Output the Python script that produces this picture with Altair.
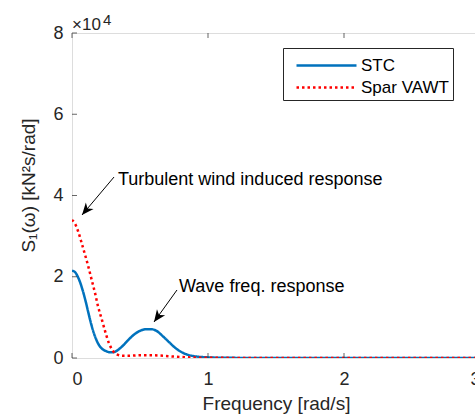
import altair as alt
import pandas as pd

# ---- data (values in kN^2 s/rad) ----
stc_x = [0.0, 0.02, 0.04, 0.06, 0.08, 0.10, 0.12, 0.14, 0.16, 0.18, 0.20, 0.22, 0.25, 0.28, 0.30, 0.33,
         0.37, 0.41, 0.45, 0.50, 0.55, 0.58, 0.62, 0.67, 0.72, 0.77, 0.82, 0.88, 0.95, 1.0, 1.1, 1.3,
         1.6, 2.0, 2.5, 3.0]
stc_y = [21500, 21200, 20200, 18600, 16500, 14000, 11200, 8500, 6200, 4400, 3100, 2300, 1700, 1400,
         1400, 1800, 2900, 4300, 5600, 6700, 7100, 7100, 6700, 5300, 3700, 2200, 1200, 550, 250, 150,
         60, 20, 10, 5, 5, 5]

spar_x = [0.0, 0.02, 0.046, 0.071, 0.096, 0.12, 0.145, 0.17, 0.19, 0.22, 0.24, 0.27, 0.30, 0.33,
          0.37, 0.42, 0.50, 0.57, 0.65, 0.77, 0.9, 1.0, 1.3, 1.6, 2.0, 2.5, 3.0]
spar_y = [34000, 33200, 31100, 28300, 25400, 22500, 19200, 15900, 12900, 9400, 7000, 3800, 1800,
          900, 550, 550, 700, 700, 600, 300, 100, 50, 20, 10, 5, 5, 5]

series_names = ["STC", "Spar VAWT"]
series_colors = ["#0072BD", "#FF0000"]

x_ticks = [0, 1, 2, 3]
y_ticks = [0, 20000, 40000, 60000, 80000]

ann_text = ["Turbulent wind induced response", "Wave freq. response"]
ann_text_x = [0.338, 0.787]
ann_text_y = [42600, 16200]
arrow_tail_x = [0.309, 0.772]
arrow_tail_y = [44550, 16740]
arrow_tip_x = [0.0735, 0.603]
arrow_tip_y = [35200, 8860]
arrow_angle = [220, 216]

W, H = 408, 325

rows = []
for name, xs, ys in [("STC", stc_x, stc_y), ("Spar VAWT", spar_x, spar_y)]:
    for a, b in zip(xs, ys):
        rows.append({"freq": a, "S": b, "series": name})
df = pd.DataFrame(rows)

ann = pd.DataFrame({
    "text": ann_text, "tx": ann_text_x, "ty": ann_text_y,
    "ax": arrow_tail_x, "ay": arrow_tail_y, "bx": arrow_tip_x, "by": arrow_tip_y,
    "angle": arrow_angle,
})

xscale = alt.Scale(domain=[0, 3], nice=False, zero=False)
yscale = alt.Scale(domain=[0, 80000], nice=False)

TXT = "#262626"
FONT = "Liberation Sans"

xaxis = alt.Axis(values=x_ticks, format="d", domain=False, ticks=False, grid=False,
                 labelFontSize=18, labelColor=TXT, labelPadding=12, labelFont=FONT,
                 title="Frequency [rad/s]", titleFontSize=19, titleFontWeight="normal",
                 titleColor=TXT, titleFont=FONT, titlePadding=6)
yaxis = alt.Axis(values=y_ticks, labelExpr="datum.value/10000", domain=False, ticks=False,
                 grid=False, labelFontSize=18, labelColor=TXT, labelPadding=9, labelFont=FONT,
                 title="S₁(ω) [kN²s/rad]", titleFontSize=19, titleFontWeight="normal",
                 titleColor=TXT, titleFont=FONT, titleX=-44, titleY=152,
                 titleBaseline="middle", titleAngle=270)

leg = dict(title=None, orient="none", legendX=211, legendY=15,
           strokeColor=TXT, fillColor="white", padding=4,
           rowPadding=0, labelFontSize=17, labelFont=FONT,
           labelColor="black", symbolType="M-2.5,0L2.5,0",
           symbolSize=576, symbolStrokeWidth=2.5,
           symbolOffset=26, labelOffset=21, cornerRadius=0)
color_enc = alt.Color("series:N", scale=alt.Scale(domain=series_names, range=series_colors),
                      legend=alt.Legend(**leg))
dash_enc = alt.StrokeDash("series:N", scale=alt.Scale(domain=series_names, range=[[1, 0], [2.5, 3]]),
                          legend=alt.Legend(**leg))

base = alt.Chart(df).encode(
    x=alt.X("freq:Q", scale=xscale, axis=xaxis),
    y=alt.Y("S:Q", scale=yscale, axis=yaxis),
    color=color_enc, strokeDash=dash_enc,
)
line_stc = base.transform_filter(alt.datum.series == "STC").mark_line(
    strokeWidth=2.5, clip=True, interpolate="monotone")
line_spar = base.transform_filter(alt.datum.series == "Spar VAWT").mark_line(
    strokeWidth=2.5, clip=True, interpolate="monotone")

xt = pd.DataFrame({"v": x_ticks})
yt = pd.DataFrame({"v": y_ticks})
tick_bottom = alt.Chart(xt).mark_tick(orient="vertical", size=5, thickness=1, color=TXT).encode(
    x=alt.X("v:Q", scale=xscale), y=alt.value(H - 2.5))
tick_top = alt.Chart(xt).mark_tick(orient="vertical", size=5, thickness=1, color=TXT).encode(
    x=alt.X("v:Q", scale=xscale), y=alt.value(2.5))
tick_left = alt.Chart(yt).mark_tick(orient="horizontal", size=5, thickness=1, color=TXT).encode(
    y=alt.Y("v:Q", scale=yscale), x=alt.value(2.5))
tick_right = alt.Chart(yt).mark_tick(orient="horizontal", size=5, thickness=1, color=TXT).encode(
    y=alt.Y("v:Q", scale=yscale), x=alt.value(W - 2.5))

ann_base = alt.Chart(ann)
ann_txt = ann_base.mark_text(align="left", baseline="alphabetic", fontSize=18, font=FONT,
                             color="black").encode(
    x=alt.X("tx:Q", scale=xscale), y=alt.Y("ty:Q", scale=yscale), text="text:N")
ann_line = ann_base.mark_rule(color="black", strokeWidth=1).encode(
    x=alt.X("ax:Q", scale=xscale), y=alt.Y("ay:Q", scale=yscale),
    x2="bx:Q", y2="by:Q")
ann_head = ann_base.mark_point(shape="M0,0L-0.42,1L0,0.72L0.42,1Z", size=576, filled=True,
                               color="black", opacity=1).encode(
    x=alt.X("bx:Q", scale=xscale), y=alt.Y("by:Q", scale=yscale), angle=alt.Angle("angle:Q", scale=None))

exp1 = alt.Chart(pd.DataFrame({"t": ["×10"]})).mark_text(
    align="left", baseline="alphabetic", fontSize=17, font=FONT, color=TXT).encode(
    x=alt.value(0), y=alt.value(-3), text="t:N")
exp2 = alt.Chart(pd.DataFrame({"t": ["4"]})).mark_text(
    align="left", baseline="alphabetic", fontSize=15, font=FONT, color=TXT).encode(
    x=alt.value(31), y=alt.value(-8), text="t:N")

chart = alt.layer(
    line_stc, line_spar, tick_bottom, tick_top, tick_left, tick_right,
    ann_line, ann_head, ann_txt, exp1, exp2,
).resolve_scale(color="shared", strokeDash="shared").properties(
    width=W, height=H,
    autosize=alt.AutoSizeParams(type="none"),
    padding={"left": 72, "top": 33, "right": -5, "bottom": 61},
).configure_view(stroke=TXT, strokeWidth=1).configure(background="white")

chart.save("out.html", embed_options={"renderer": "svg", "actions": False})
